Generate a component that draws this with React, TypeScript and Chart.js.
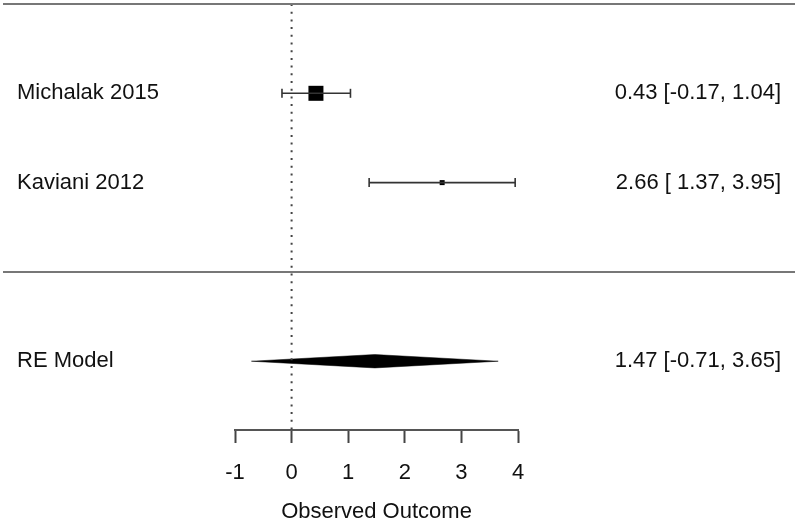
import React, { useEffect, useRef } from "react";
import { Chart, registerables } from "chart.js";

Chart.register(...registerables);

// ---- data ----
const studyLabels = ["Michalak 2015", "Kaviani 2012"];
const estimates = [0.43, 2.66];
const ciLower = [-0.17, 1.37];
const ciUpper = [1.04, 3.95];

const summaryLabel = "RE Model";
const summaryEstimate = 1.47;
const summaryLower = -0.71;
const summaryUpper = 3.65;

const xMin = -1;
const xMax = 4;
const xTitle = "Observed Outcome";

// ---- derived ----
const k = studyLabels.length;
const studyRows = studyLabels.map((_, i) => k - i); // 2, 1
const summaryRow = -1;
const yTop = k + 1; // 3
const yBottom = -1.77;

// marker sizes from precision (metafor style: 0.5 .. 1.5)
const wi = ciLower.map((lo, i) => 1 / ((ciUpper[i] - lo) / (2 * 1.96)));
const wMin = Math.min(...wi);
const wMax = Math.max(...wi);
const psize = wi.map((w) => (wMax > wMin ? (w - wMin) / (wMax - wMin) : 0.5) + 0.5);

const fmt = (v: number) => v.toFixed(2);
const padCol = (vals: number[]) => {
  const s = vals.map(fmt);
  const m = Math.max(...s.map((x) => x.length));
  return s.map((x) => x.padStart(m, " "));
};
const allEst = padCol([...estimates, summaryEstimate]);
const allLo = padCol([...ciLower, summaryLower]);
const allHi = padCol([...ciUpper, summaryUpper]);
const rightLabels = allEst.map((e, i) => `${e} [${allLo[i]}, ${allHi[i]}]`);
const leftLabels = [...studyLabels, summaryLabel];
const labelRows = [...studyRows, summaryRow];

const FONT = "Liberation Sans, Arial, Helvetica, sans-serif";
const FS = 22;

const textPlugin = {
  id: "forestText",
  afterDraw(chart: any) {
    const ctx = chart.ctx;
    const y = chart.scales.y;
    ctx.save();
    // horizontal separator lines
    ctx.strokeStyle = "#777";
    ctx.lineWidth = 2;
    [yTop, 0].forEach((r) => {
      const py = Math.round(y.getPixelForValue(r));
      ctx.beginPath();
      ctx.moveTo(3, py);
      ctx.lineTo(chart.width - 5, py);
      ctx.stroke();
    });
    ctx.fillStyle = "#111";
    ctx.font = `${FS}px ${FONT}`;
    ctx.textBaseline = "middle";
    labelRows.forEach((r, i) => {
      const py = y.getPixelForValue(r);
      ctx.textAlign = "left";
      ctx.fillText(leftLabels[i], 17, py);
      ctx.textAlign = "right";
      ctx.fillText(rightLabels[i], 781, py);
    });
    ctx.restore();
  },
};

export default function App() {
  const ref = useRef<HTMLCanvasElement | null>(null);
  useEffect(() => {
    if (!ref.current) return;
    const datasets: any[] = [];
    // reference line at 0
    datasets.push({
      type: "line",
      data: [
        { x: 0, y: yTop },
        { x: 0, y: yBottom },
      ],
      borderColor: "#444",
      borderWidth: 2,
      borderDash: [2, 5.7],
      pointRadius: 0,
      fill: false,
    });
    // CI bars
    studyRows.forEach((r, i) => {
      datasets.push({
        type: "line",
        data: [
          { x: ciLower[i], y: r },
          { x: ciUpper[i], y: r },
        ],
        borderColor: "#333",
        borderWidth: 1.6,
        pointStyle: "line",
        rotation: 90,
        pointRadius: 4.5,
        pointBorderWidth: 1.6,
        pointBorderColor: "#333",
        fill: false,
      });
    });
    // squares
    studyRows.forEach((r, i) => {
      const side = psize[i] * 10;
      datasets.push({
        type: "scatter",
        data: [{ x: estimates[i], y: r }],
        pointStyle: "rect",
        pointRadius: side / Math.SQRT2,
        backgroundColor: "#000",
        borderColor: "#000",
        borderWidth: 0,
      });
    });
    // diamond
    const h = 0.075;
    datasets.push({
      type: "line",
      data: [
        { x: summaryLower, y: summaryRow },
        { x: summaryEstimate, y: summaryRow + h },
        { x: summaryUpper, y: summaryRow },
        { x: summaryEstimate, y: summaryRow - h },
        { x: summaryLower, y: summaryRow },
      ],
      borderColor: "#000",
      borderWidth: 0.5,
      backgroundColor: "#000",
      pointRadius: 0,
      tension: 0,
      fill: "shape",
    });

    const chart = new Chart(ref.current, {
      type: "scatter",
      data: { datasets },
      plugins: [textPlugin],
      options: {
        animation: false,
        responsive: false,
        layout: { autoPadding: false, padding: { left: 235, right: 282, top: 4, bottom: 0 } },
        plugins: { legend: { display: false }, tooltip: { enabled: false } },
        scales: {
          x: {
            type: "linear",
            position: "bottom",
            min: xMin,
            max: xMax,
            afterFit: (s: any) => {
              s.height = 95;
            },
            ticks: {
              stepSize: 1,
              color: "#111",
              font: { family: FONT, size: FS },
              padding: 17,
              maxRotation: 0,
            },
            grid: {
              drawOnChartArea: false,
              drawTicks: true,
              tickLength: 13,
              tickColor: "#444",
              tickWidth: 2,
            },
            border: { display: true, color: "#555", width: 2 },
            title: {
              display: true,
              text: xTitle,
              color: "#111",
              font: { family: FONT, size: FS },
              padding: { top: 0, bottom: 0 },
            },
          },
          y: {
            type: "linear",
            display: false,
            min: yBottom,
            max: yTop,
          },
        },
      },
    });
    return () => chart.destroy();
  }, []);
  return (
    <div style={{ position: "absolute", left: 0, top: 0, width: 800, height: 525, background: "#fff" }}>
      <canvas ref={ref} width={800} height={525} />
    </div>
  );
}
